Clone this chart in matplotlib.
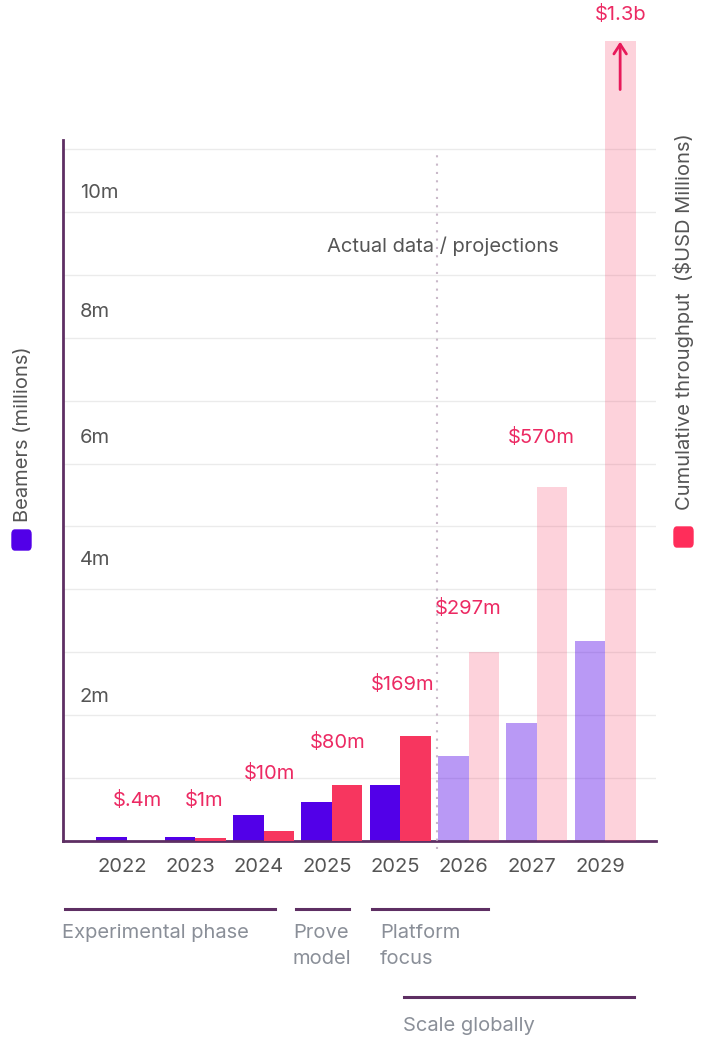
import matplotlib
matplotlib.use("Agg")
import matplotlib.pyplot as plt
from matplotlib.lines import Line2D
from matplotlib.patches import FancyBboxPatch

plt.rcParams['font.family'] = ['Inter', 'DejaVu Sans']

# data
years = ["2022", "2023", "2024", "2025", "2025", "2026", "2027", "2029"]
beamers = [0.07, 0.07, 0.41, 0.62, 0.89, 1.35, 1.88, 3.18]          # millions
throughput = [0.4, 5, 16, 89, 167, 300, 563, 1272]                    # $USD millions (bar height)
throughput_labels = ["$.4m", "$1m", "$10m", "$80m", "$169m", "$297m", "$570m", "$1.3b"]
projected = [False, False, False, False, False, True, True, True]
ytick_vals = [2, 4, 6, 8, 10]

# label placement (axis units)
label_dx = [0.15, 0.13, 0.09, 0.09, 0.03, 0.0, 0.06, 0.22]
label_y = [0.65, 0.65, 1.08, 1.57, 2.48, 3.7, 6.41, 13.13]
ytick_dy = [0.29, 0.47, 0.41, 0.41, 0.30]

phases = ["Experimental phase", "Prove\nmodel", "Platform\nfocus", "Scale globally"]
phase_lines = [(65, 275, 909), (296, 349, 909), (372, 488, 909), (404, 634, 997)]
phase_text = [(62, 924), (293, 924), (380, 924), (403, 1017)]

PURPLE = "#5200e8"
RED = "#f7365f"
LABEL_RED = "#ec2a63"
AXIS = "#5e2f63"
GREY = "#555555"
FS = 14.5

W, H = 709, 1041
fig = plt.figure(figsize=(W / 100, H / 100), dpi=100)

def fx(x):
    return x / W

def fy(y):
    return 1 - y / H

ax = fig.add_axes([fx(63), fy(841), fx(656) - fx(63), fy(20) - fy(841)])
ax.set_xlim(-0.937, 7.745)
ax.set_ylim(0, 13.05)
ax2 = ax.twinx()
ax2.set_ylim(0, 1305)

w = 0.447
x = list(range(len(years)))
for i in x:
    a = 0.4 if projected[i] else 1.0
    ax.bar(i - w / 2, beamers[i], width=w, color=PURPLE, alpha=a, zorder=2)
    ra = 0.22 if projected[i] else 1.0
    ax2.bar(i + w / 2, throughput[i], width=w, color=RED, alpha=ra, zorder=2, clip_on=False)
    ax.text(i + label_dx[i], label_y[i], throughput_labels[i], color=LABEL_RED,
            fontsize=FS, ha='center', va='center', clip_on=False)

# grid and axes styling
ax.set_yticks(range(1, 12))
ax.set_yticklabels([])
ax.grid(axis='y', color='#ebebeb', lw=1, zorder=0)
ax.set_axisbelow(True)
ax.tick_params(axis='y', length=0)
ax2.set_yticks([])
for s in ['top', 'right']:
    ax.spines[s].set_visible(False)
for s in ax2.spines.values():
    s.set_visible(False)
ax.spines['left'].set_bounds(0, 11.14)
ax.spines['left'].set_color(AXIS)
ax.spines['left'].set_linewidth(2)
ax.spines['bottom'].set_color(AXIS)
ax.spines['bottom'].set_linewidth(2)

ax.set_xticks([i - 0.07 for i in x])
ax.set_xticklabels(years, fontsize=FS, color=GREY)
ax.tick_params(axis='x', length=0, pad=12)

for v, dy in zip(ytick_vals, ytick_dy):
    ax.text(-0.69, v + dy, f"{v}m", fontsize=FS, color=GREY, ha='left', va='center')

# actual / projection divider
ax.plot([4.54, 4.54], [-0.12, 11.0], ls=(0, (1, 3)), color='#c9b9c9', lw=1.5,
        zorder=5, clip_on=False)
ax.text(4.62, 9.45, "Actual data / projections", fontsize=FS, color=GREY,
        ha='center', va='center', zorder=6)

# arrow for the off-scale bar
ax2.annotate('', xy=(7.22, 1275), xytext=(7.22, 1190),
             arrowprops=dict(arrowstyle='->,head_width=0.45,head_length=0.7',
                             color='#e8195a', lw=2), annotation_clip=False)

# rotated series labels
fig.text(fx(23), fy(522), "Beamers (millions)", rotation=90, fontsize=FS,
         color=GREY, ha='center', va='bottom')
fig.patches.append(FancyBboxPatch((fx(12), fy(550)), fx(19), fy(530) - fy(550),
                                  boxstyle="round,pad=0,rounding_size=0.004",
                                  transform=fig.transFigure, color=PURPLE))
fig.text(fx(683), fy(510), "Cumulative throughput  ($USD Millions)", rotation=90,
         fontsize=FS, color=GREY, ha='center', va='bottom')
fig.patches.append(FancyBboxPatch((fx(674), fy(547)), fx(19), fy(527) - fy(547),
                                  boxstyle="round,pad=0,rounding_size=0.004",
                                  transform=fig.transFigure, color="#ff2d5a"))

# phase timeline below
for name, (x0, x1, yy), (tx, ty) in zip(phases, phase_lines, phase_text):
    fig.add_artist(Line2D([fx(x0), fx(x1)], [fy(yy), fy(yy)], color=AXIS, lw=2.2))
    fig.text(fx(tx), fy(ty), name, fontsize=FS, color='#8a8f98',
             ha='left', va='top', linespacing=1.6)

fig.savefig("out.png", dpi=100)
